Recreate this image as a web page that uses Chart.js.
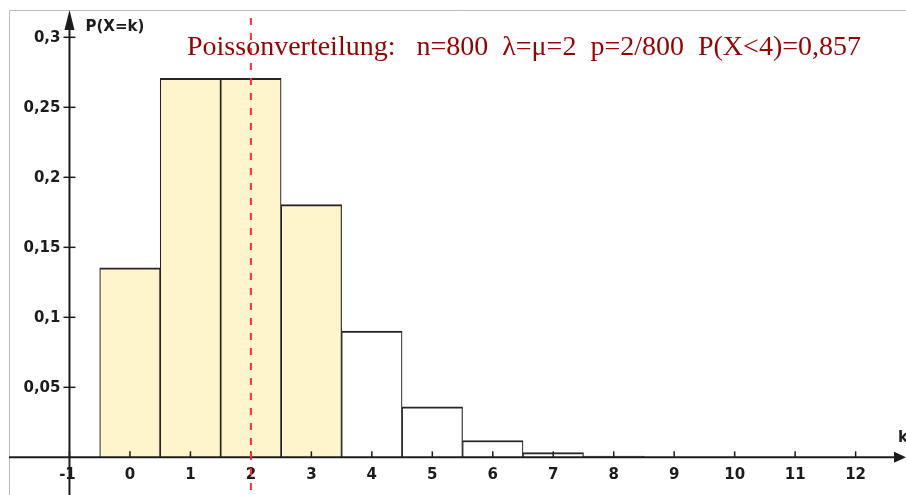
<!DOCTYPE html>
<html lang="de">
<head>
<meta charset="utf-8">
<title>Poissonverteilung</title>
<script src="https://cdn.jsdelivr.net/npm/chart.js@4.4.0/dist/chart.umd.min.js"></script>
<style>
  html, body { margin: 0; padding: 0; background: #fff; }
  canvas { display: block; }
</style>
</head>
<body>
<canvas id="poisson" width="906" height="495"></canvas>
<script>
// Werte (n=800, p=2/800)
const kWerte = [0, 1, 2, 3, 4, 5, 6, 7, 8];
const wahrscheinlichkeiten = [0.1353, 0.2707, 0.2707, 0.1805, 0.0902, 0.0361, 0.0120, 0.0034, 0.0009];
const markiert = [true, true, true, true, false, false, false, false, false]; // P(X<4)

const xTicks = [-1, 0, 1, 2, 3, 4, 5, 6, 7, 8, 9, 10, 11, 12];
const yTicks = [0.05, 0.1, 0.15, 0.2, 0.25, 0.3];
const yTickLabels = ['0,05', '0,1', '0,15', '0,2', '0,25', '0,3'];

const erwartungswert = 2;
const yAchseBei = -1;
const titelText = 'Poissonverteilung:   n=800  λ=μ=2  p=2/800  P(X<4)=0,857';

const farben = {
    achse: '#1c1c1c',
    rahmen: '#bdbdbd',
    balken: '#262626',
    fuellung: '#fff5cc',
    leer: '#ffffff',
    mittel: '#ff2b3c',
    titel: '#930505'
};

// Achsen, Pfeile, Beschriftungen und die gestrichelte Linie selbst zeichnen
const achsenPlugin = {
    id: 'achsen',
    afterDatasetsDraw(chart) {
        const ctx = chart.ctx;
        const xs = chart.scales.x;
        const ys = chart.scales.y;
        const area = chart.chartArea;
        const x0 = xs.getPixelForValue(yAchseBei);
        const y0 = ys.getPixelForValue(0);

        ctx.save();

        // Rahmen (nur oben und links sichtbar)
        ctx.strokeStyle = farben.rahmen;
        ctx.lineWidth = 1;
        ctx.beginPath();
        ctx.moveTo(area.left + 0.5, chart.height);
        ctx.lineTo(area.left + 0.5, area.top + 0.5);
        ctx.lineTo(chart.width, area.top + 0.5);
        ctx.stroke();

        // x-Achse
        ctx.strokeStyle = farben.achse;
        ctx.fillStyle = farben.achse;
        ctx.lineWidth = 2;
        ctx.beginPath();
        ctx.moveTo(area.left, y0);
        ctx.lineTo(area.right - 4, y0);
        ctx.stroke();
        ctx.beginPath();
        ctx.moveTo(area.right + 2, y0);
        ctx.lineTo(area.right - 10, y0 - 5.5);
        ctx.lineTo(area.right - 10, y0 + 5.5);
        ctx.closePath();
        ctx.fill();

        // y-Achse
        ctx.beginPath();
        ctx.moveTo(x0, chart.height);
        ctx.lineTo(x0, area.top + 8);
        ctx.stroke();
        ctx.beginPath();
        ctx.moveTo(x0, area.top);
        ctx.lineTo(x0 - 5, area.top + 20);
        ctx.lineTo(x0 + 5, area.top + 20);
        ctx.closePath();
        ctx.fill();

        ctx.font = 'bold 15px "DejaVu Sans"';
        ctx.lineWidth = 1.5;

        // y-Ticks
        ctx.textAlign = 'right';
        ctx.textBaseline = 'middle';
        yTicks.forEach((v, i) => {
            const py = ys.getPixelForValue(v);
            ctx.beginPath();
            ctx.moveTo(x0 - 6, py);
            ctx.lineTo(x0 + 6, py);
            ctx.stroke();
            ctx.fillText(yTickLabels[i], x0 - 9, py + 1);
        });

        // x-Ticks
        ctx.textAlign = 'center';
        xTicks.forEach(v => {
            const px = xs.getPixelForValue(v);
            ctx.beginPath();
            ctx.moveTo(px, y0 - 6);
            ctx.lineTo(px, y0);
            ctx.stroke();
            ctx.fillText(String(v), px - (v < 0 ? 2 : 0), y0 + 18);
        });

        // Achsentitel
        ctx.textAlign = 'left';
        ctx.textBaseline = 'alphabetic';
        ctx.fillText('P(X=k)', x0 + 16, area.top + 21);
        ctx.fillText('k', area.right - 6, y0 - 15);

        // Erwartungswert als gestrichelte Linie
        const pm = xs.getPixelForValue(erwartungswert);
        ctx.strokeStyle = farben.mittel;
        ctx.lineWidth = 2;
        ctx.setLineDash([7, 8]);
        ctx.beginPath();
        ctx.moveTo(pm, area.top + 8);
        ctx.lineTo(pm, chart.height);
        ctx.stroke();
        ctx.setLineDash([]);

        // Titel
        ctx.fillStyle = farben.titel;
        ctx.font = '28px "Liberation Serif"';
        ctx.fillText(titelText, 187, area.top + 45);

        ctx.restore();
    }
};

document.addEventListener('DOMContentLoaded', function() {
    const canvas = document.getElementById('poisson');

    new Chart(canvas, {
        type: 'bar',
        data: {
            datasets: [{
                data: kWerte.map((k, i) => ({ x: k, y: wahrscheinlichkeiten[i] })),
                backgroundColor: markiert.map(m => m ? farben.fuellung : farben.leer),
                borderColor: farben.balken,
                borderWidth: { top: 2, left: 1.2, right: 1.2, bottom: 0 },
                borderSkipped: false,
                barPercentage: 1,
                categoryPercentage: 1
            }]
        },
        options: {
            responsive: false,
            animation: false,
            layout: {
                padding: { left: 9, right: 2, top: 10, bottom: 0 }
            },
            scales: {
                x: {
                    type: 'linear',
                    min: -2,
                    max: 12.8,
                    offset: false,
                    display: false,
                    // nur ganze k als Ticks, damit die Balkenbreite genau 1 ist
                    afterBuildTicks: scale => {
                        scale.ticks = xTicks.map(v => ({ value: v }));
                    }
                },
                y: { min: -0.0269, max: 0.3195, display: false }
            },
            plugins: {
                legend: { display: false },
                tooltip: { enabled: false }
            }
        },
        plugins: [achsenPlugin]
    });
});
</script>
</body>
</html>
